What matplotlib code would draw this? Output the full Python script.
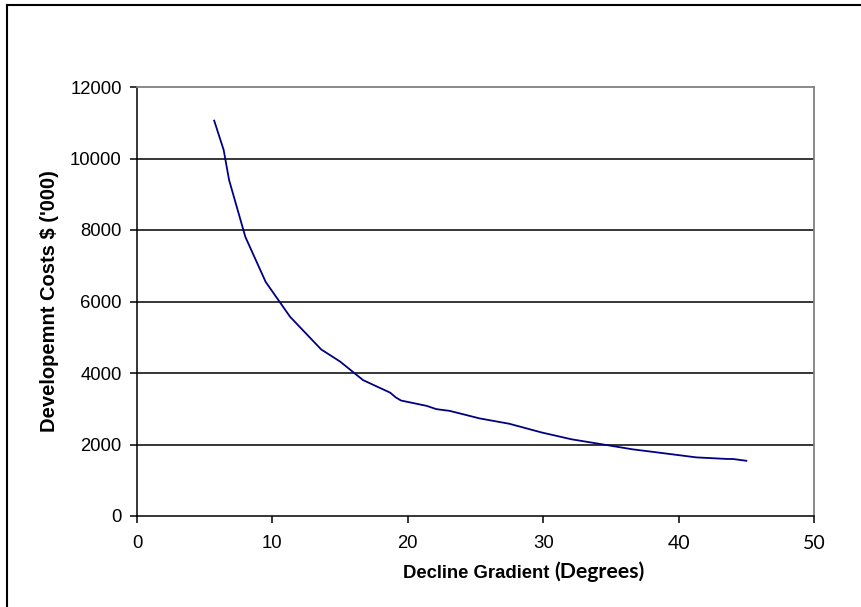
import matplotlib
matplotlib.use("Agg")
import matplotlib.pyplot as plt
from matplotlib.lines import Line2D

# decline gradient (degrees) vs development cost ($'000)
gradient = [5.7, 6.4, 6.8, 8.0, 9.5, 11.3, 13.6, 15.0, 16.7, 18.7, 19.1, 19.5,
            21.4, 22.1, 23.1, 25.3, 27.5, 29.9, 32.1, 34.2, 36.6, 38.6, 41.3,
            43.6, 44.0, 45.0]
cost = [11060, 10240, 9400, 7810, 6550, 5575, 4660, 4320, 3800, 3450, 3320, 3230,
        3080, 2990, 2940, 2730, 2580, 2335, 2145, 2015, 1865, 1770, 1640,
        1595, 1595, 1545]

x_ticks = [0, 10, 20, 30, 40, 50]
y_ticks = [0, 2000, 4000, 6000, 8000, 10000, 12000]

plt.rcParams['font.family'] = ['Liberation Sans', 'DejaVu Sans']

W, H = 861, 607
fig = plt.figure(figsize=(W / 100, H / 100), dpi=100)
fig.patch.set_facecolor('white')

# chart frame (only top and left edges show)
fig.add_artist(Line2D([7 / W, 7 / W], [0, 1 - 5 / H], color='black', lw=1.5,
                      transform=fig.transFigure))
fig.add_artist(Line2D([7 / W, 1], [1 - 5 / H, 1 - 5 / H], color='black', lw=1.5,
                      transform=fig.transFigure))

ax = fig.add_axes([137 / W, 1 - 516 / H, (814 - 137) / W, (516 - 87) / H])
ax.set_facecolor('white')

for y in y_ticks[1:-1]:
    ax.axhline(y, color='black', lw=1.1, zorder=1)

ax.plot(gradient, cost, color='#000080', lw=1.3, zorder=3)

ax.set_xlim(0, 50)
ax.set_ylim(0, 12000)
ax.set_xticks(x_ticks)
ax.set_yticks(y_ticks)

ax.spines['left'].set_color('black')
ax.spines['bottom'].set_color('black')
ax.spines['left'].set_linewidth(1.1)
ax.spines['bottom'].set_linewidth(1.1)
ax.spines['top'].set_color('#808080')
ax.spines['right'].set_color('#808080')
ax.spines['top'].set_linewidth(1.3)
ax.spines['right'].set_linewidth(1.3)

ax.tick_params(axis='both', direction='out', length=5, width=1.1,
               labelsize=13.3, color='black')
ax.tick_params(axis='y', pad=6)
ax.tick_params(axis='x', pad=9)

for lab in ax.get_xticklabels()[-2:]:
    lab.set_fontfamily('Lato')
    lab.set_fontsize(14)

ax.set_ylabel("Developemnt Costs $ ('000)", fontsize=14.5, fontweight='bold',
              labelpad=8)

# x-axis title in two fonts
fig.text(403 / W, 1 - 574 / H, 'Decline Gradient', fontsize=13.3,
         fontweight='bold', ha='left', va='center')
fig.text(554 / W, 1 - 572 / H, '(Degrees)', fontsize=15.3, fontweight='bold',
         family='Lato', ha='left', va='center')

fig.savefig('out.png', dpi=100)
